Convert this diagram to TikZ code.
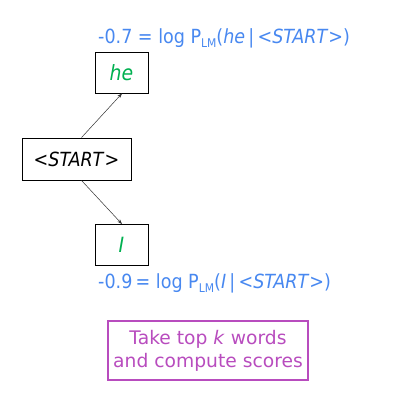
\documentclass[tikz,border=0pt]{standalone}
\usepackage{fontspec}
\setmainfont{DejaVu Sans Condensed}
\newfontfamily\widesans{DejaVu Sans}
\usetikzlibrary{arrows.meta}
\definecolor{lblue}{RGB}{72,136,240}
\definecolor{lgreen}{RGB}{0,176,80}
\definecolor{lpurple}{RGB}{184,76,190}
\tikzset{
  wordbox/.style={draw=black, line width=0.9pt, minimum width=53pt, minimum height=41pt, inner sep=0pt, font=\fontsize{20}{22}\selectfont},
  scorelab/.style={text=lblue, anchor=west, inner sep=0pt, font=\fontsize{19.5}{22}\selectfont},
  conn/.style={draw=black!80, line width=0.5pt, -{Stealth[length=5pt,width=3.5pt]}},
}
\newcommand{\lmsub}{\raisebox{-0.45ex}{\fontsize{12}{12}\selectfont LM}}
\begin{document}
\begin{tikzpicture}[x=1pt,y=-1pt]
\useasboundingbox (0,0) rectangle (410,400);
\node[wordbox, minimum width=109pt, minimum height=42pt, font=\fontsize{19.5}{22}\selectfont] (start) at (76.5,159) {<\textit{START}>};
\node[wordbox, text=lgreen, font=\fontsize{21}{22}\selectfont] (he) at (121.5,72.5) {\textit{he}};
\node[wordbox, text=lgreen, font=\fontsize{21}{22}\selectfont] (I) at (121.5,245) {\textit{I}};
\node[scorelab] (lab1) at (98,38) {-0.7 = log P\lmsub(\textit{he}\,|\,<\textit{START}>)};
\node[scorelab] (lab2) at (98,283) {-0.9\,= log P\lmsub(\textit{I}\,|\,<\textit{START}>)};
\node[draw=lpurple, line width=1.2pt, text=lpurple, minimum width=200pt, minimum height=59pt, align=center, inner sep=0pt, font=\widesans\fontsize{18.7}{23}\selectfont] (box) at (208,350.5) {Take top \textit{k} words\\and compute scores};
\draw[conn] ([xshift=5pt]start.north) -- ([xshift=0.5pt]he.south);
\draw[conn] ([xshift=5pt]start.south) -- ([xshift=0.5pt]I.north);
\end{tikzpicture}
\end{document}
